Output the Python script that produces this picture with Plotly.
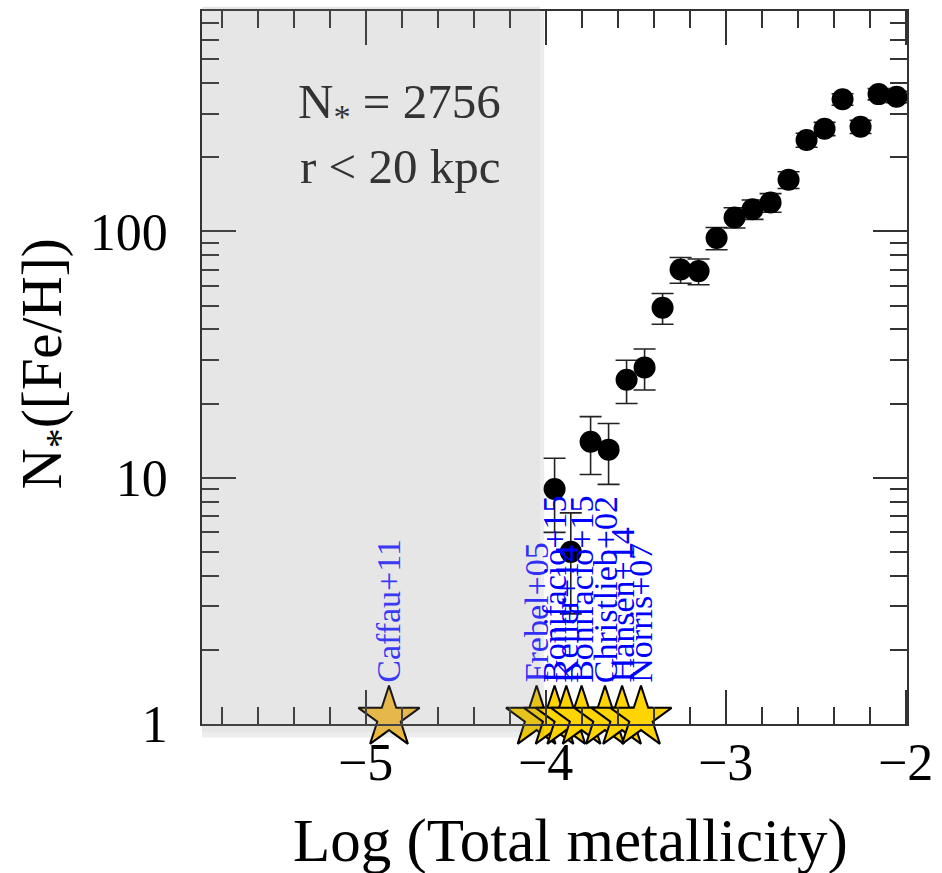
import math
import plotly.graph_objects as go

# ---- data ----
log_z = [-3.95, -3.86, -3.75, -3.65, -3.55, -3.45, -3.35, -3.25, -3.15, -3.05,
         -2.95, -2.85, -2.75, -2.65, -2.55, -2.45, -2.35, -2.25, -2.15, -2.05]
n_stars = [9, 5, 14, 13, 25, 28, 49, 70, 69, 94,
           114, 123, 131, 162, 235, 261, 344, 266, 361, 352]
n_err = [3.0, 2.2, 3.7, 3.6, 5.0, 5.3, 7.0, 8.4, 8.3, 9.7,
         10.7, 11.1, 11.4, 12.7, 15.3, 16.2, 18.5, 16.3, 19.0, 18.8]

ref_names = ["Caffau+11", "Frebel+05", "Bonifacio+15", "Keller+14", "Bonifacio+15",
             "Christlieb+02", "Hansen+14", "Norris+07"]
ref_logz = [-4.87, -4.05, -3.95, -3.885, -3.80, -3.67, -3.575, -3.47]
ref_y = [1.06] * 8
ref_star_colors = ["#ffc53c", "#ffd400", "#ffd400", "#ffd400", "#ffd400",
                   "#ffd400", "#ffd400", "#ffd400"]
ref_label_colors = ["#3a3af0", "#3030f6", "#0000ff", "#0000ff", "#0000ff",
                    "#0000ff", "#0000ff", "#0000ff"]

x_ticks = [-5, -4, -3, -2]
y_ticks = [1, 10, 100]
y_ticklabels = ["1", "10", "100"]
y_minor = [2, 3, 4, 5, 6, 7, 8, 9, 20, 30, 40, 50, 60, 70, 80, 90,
           200, 300, 400, 500, 600, 700, 800]

X_RANGE = [-5.909, -1.992]
Y_RANGE = [0.0, 2.895]
SHADE_X1 = -4.03
FONT = "Liberation Serif"

fig = go.Figure()

fig.add_trace(go.Scatter(
    x=log_z, y=n_stars, mode="markers",
    marker=dict(color="black", size=22, line=dict(width=0)),
    error_y=dict(type="data", array=n_err, visible=True,
                 color="#222", thickness=1.6, width=11),
    showlegend=False, hoverinfo="skip",
))

fig.add_trace(go.Scatter(
    x=ref_logz, y=ref_y, mode="markers", cliponaxis=False,
    marker=dict(symbol="star", size=46, color=ref_star_colors,
                line=dict(color="black", width=2)),
    showlegend=False, hoverinfo="skip",
))

annotations = []
for name, xv, yv, col in zip(ref_names, ref_logz, ref_y, ref_label_colors):
    annotations.append(dict(
        x=xv, y=math.log10(yv), xref="x", yref="y", yanchor="bottom", xanchor="center",
        yshift=33, text=name, textangle=-90, showarrow=False,
        font=dict(family=FONT, size=34, color=col),
    ))

annotations += [
    dict(x=-4.81, y=0.8685, xref="x", yref="paper", text="N<sub>*</sub> = 2756",
         showarrow=False, xanchor="center", yanchor="middle",
         font=dict(family=FONT, size=49, color="#333333")),
    dict(x=-4.81, y=0.7818, xref="x", yref="paper", text="r &lt; 20 kpc",
         showarrow=False, xanchor="center", yanchor="middle",
         font=dict(family=FONT, size=49, color="#333333")),
    dict(x=0.523, y=-0.1636, xref="paper", yref="paper", text="Log (Total metallicity)",
         showarrow=False, xanchor="center", yanchor="middle",
         font=dict(family=FONT, size=61, color="black")),
    dict(x=-0.222, y=0.505, xref="paper", yref="paper", text="N<sub>*</sub>([Fe/H])",
         showarrow=False, xanchor="center", yanchor="middle", textangle=-90,
         font=dict(family=FONT, size=57, color="black")),
]

px_x = (X_RANGE[1] - X_RANGE[0]) / 707.0
px_y = 1.0 / 715.0
shapes = [
    dict(type="rect", xref="x", yref="paper", x0=SHADE_X1, x1=SHADE_X1 + 4 * px_x,
         y0=-0.012 - 4 * px_y, y1=1.006 - 4 * px_y, fillcolor="rgba(0,0,0,0.07)",
         line=dict(width=0), layer="above"),
    dict(type="rect", xref="x", yref="paper", x0=X_RANGE[0] - 1 * px_x, x1=SHADE_X1,
         y0=-0.012 - 5 * px_y, y1=-0.012, fillcolor="rgba(0,0,0,0.07)",
         line=dict(width=0), layer="above"),
    dict(type="rect", xref="x", yref="paper", x0=X_RANGE[0] - 3 * px_x, x1=SHADE_X1,
         y0=-0.012, y1=1.006, fillcolor="rgba(130,130,130,0.2)",
         line=dict(width=0), layer="above"),
]

fig.update_layout(
    width=942, height=873,
    margin=dict(l=202, r=33, t=9, b=149),
    paper_bgcolor="white", plot_bgcolor="white",
    showlegend=False,
    annotations=annotations, shapes=shapes,
    xaxis=dict(
        range=X_RANGE, tickmode="array", tickvals=x_ticks,
        ticks="inside", ticklen=34, tickwidth=1.5, tickcolor="#333",
        showline=True, linecolor="#333", linewidth=1.5, mirror="ticks",
        showgrid=False, zeroline=False,
        tickfont=dict(family=FONT, size=52, color="black"),
        ticklabelstandoff=-8,
        minor=dict(tickmode="linear", tick0=-6, dtick=0.2, ticks="inside",
                   ticklen=17, tickwidth=1.5, tickcolor="#333", showgrid=False),
    ),
    yaxis=dict(
        type="log", range=Y_RANGE, tickmode="array", tickvals=y_ticks,
        ticktext=y_ticklabels,
        ticks="inside", ticklen=34, tickwidth=1.5, tickcolor="#333",
        showline=True, linecolor="#333", linewidth=1.5, mirror="ticks",
        showgrid=False, zeroline=False,
        tickfont=dict(family=FONT, size=52, color="black"),
        ticklabelstandoff=22,
        minor=dict(tickmode="array", tickvals=y_minor, ticks="inside",
                   ticklen=17, tickwidth=1.5, tickcolor="#333", showgrid=False),
    ),
)

fig.write_html("out.html")
